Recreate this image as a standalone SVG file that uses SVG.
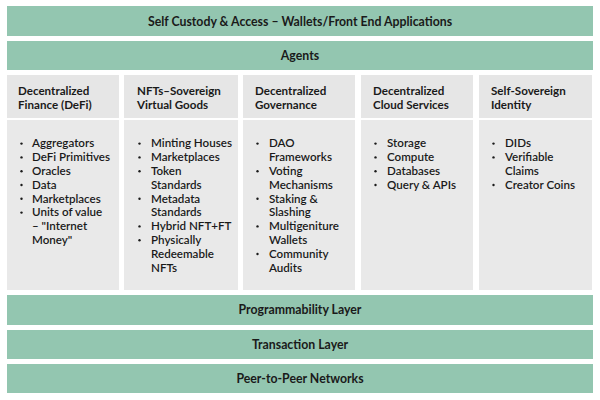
<svg xmlns="http://www.w3.org/2000/svg" width="600" height="400" viewBox="0 0 600 400">
<style>
.bar{fill:#93c6b0}
.hd{fill:#e6e6e6}
.bd{fill:#e9e9e9}
.bt{font-family:Lato,"Open Sans",sans-serif;font-weight:bold;font-size:12.3px;fill:#1a1a1a;text-anchor:middle}
.ht{font-family:Lato,"Open Sans",sans-serif;font-weight:bold;font-size:11.6px;fill:#1a1a1a}
.it{font-family:Lato,"Open Sans",sans-serif;font-weight:600;font-size:11.6px;fill:#1a1a1a}
.dot{fill:#1a1a1a}
</style>
<rect width="600" height="400" fill="#ffffff"/>
<g id="self-custody"><rect class="bar" x="7" y="6" width="586" height="30"/><text class="bt" x="300" y="25.5">Self Custody &amp; Access – Wallets/Front End Applications</text></g>
<g id="agents"><rect class="bar" x="7" y="41" width="586" height="29"/><text class="bt" x="300" y="59.5">Agents</text></g>
<g id="defi">
<rect class="hd" x="7" y="75" width="112" height="43"/>
<rect class="bd" x="7" y="120" width="112" height="170"/>
<text class="ht" x="18" y="94.5">Decentralized</text><text class="ht" x="18" y="108.5">Finance (DeFi)</text>
<g class="dot">
<circle cx="21.5" cy="143.6" r="1.2"/><circle cx="21.5" cy="157.4" r="1.2"/><circle cx="21.5" cy="171.2" r="1.2"/><circle cx="21.5" cy="185" r="1.2"/><circle cx="21.5" cy="198.8" r="1.2"/><circle cx="21.5" cy="212.6" r="1.2"/>
</g>
<g class="it">
<text x="32" y="147.3">Aggregators</text>
<text x="32" y="161.1">DeFi Primitives</text>
<text x="32" y="174.9">Oracles</text>
<text x="32" y="188.7">Data</text>
<text x="32" y="202.5">Marketplaces</text>
<text x="32" y="216.3">Units of value</text>
<text x="32" y="230.1">– "Internet</text>
<text x="32" y="243.9">Money"</text>
</g>
</g>
<g id="nfts">
<rect class="hd" x="124" y="75" width="114" height="43"/>
<rect class="bd" x="124" y="120" width="114" height="170"/>
<text class="ht" x="137" y="94.5">NFTs–Sovereign</text><text class="ht" x="137" y="108.5">Virtual Goods</text>
<g class="dot">
<circle cx="139.5" cy="143.6" r="1.2"/><circle cx="139.5" cy="157.4" r="1.2"/><circle cx="139.5" cy="171.2" r="1.2"/><circle cx="139.5" cy="198.8" r="1.2"/><circle cx="139.5" cy="226.4" r="1.2"/><circle cx="139.5" cy="240.2" r="1.2"/>
</g>
<g class="it">
<text x="151" y="147.3">Minting Houses</text>
<text x="151" y="161.1">Marketplaces</text>
<text x="151" y="174.9">Token</text>
<text x="151" y="188.7">Standards</text>
<text x="151" y="202.5">Metadata</text>
<text x="151" y="216.3">Standards</text>
<text x="151" y="230.1">Hybrid NFT+FT</text>
<text x="151" y="243.9">Physically</text>
<text x="151" y="257.7">Redeemable</text>
<text x="151" y="271.5">NFTs</text>
</g>
</g>
<g id="governance">
<rect class="hd" x="243" y="75" width="112" height="43"/>
<rect class="bd" x="243" y="120" width="112" height="170"/>
<text class="ht" x="255" y="94.5">Decentralized</text><text class="ht" x="255" y="108.5">Governance</text>
<g class="dot">
<circle cx="257.5" cy="143.6" r="1.2"/><circle cx="257.5" cy="171.2" r="1.2"/><circle cx="257.5" cy="198.8" r="1.2"/><circle cx="257.5" cy="226.4" r="1.2"/><circle cx="257.5" cy="254" r="1.2"/>
</g>
<g class="it">
<text x="269" y="147.3">DAO</text>
<text x="269" y="161.1">Frameworks</text>
<text x="269" y="174.9">Voting</text>
<text x="269" y="188.7">Mechanisms</text>
<text x="269" y="202.5">Staking &amp;</text>
<text x="269" y="216.3">Slashing</text>
<text x="269" y="230.1">Multigeniture</text>
<text x="269" y="243.9">Wallets</text>
<text x="269" y="257.7">Community</text>
<text x="269" y="271.5">Audits</text>
</g>
</g>
<g id="cloud">
<rect class="hd" x="361" y="75" width="112" height="43"/>
<rect class="bd" x="361" y="120" width="112" height="170"/>
<text class="ht" x="373" y="94.5">Decentralized</text><text class="ht" x="373" y="108.5">Cloud Services</text>
<g class="dot">
<circle cx="375.5" cy="143.6" r="1.2"/><circle cx="375.5" cy="157.4" r="1.2"/><circle cx="375.5" cy="171.2" r="1.2"/><circle cx="375.5" cy="185" r="1.2"/>
</g>
<g class="it">
<text x="387" y="147.3">Storage</text>
<text x="387" y="161.1">Compute</text>
<text x="387" y="174.9">Databases</text>
<text x="387" y="188.7">Query &amp; APIs</text>
</g>
</g>
<g id="identity">
<rect class="hd" x="479" y="75" width="113" height="43"/>
<rect class="bd" x="479" y="120" width="113" height="170"/>
<text class="ht" x="491" y="94.5">Self-Sovereign</text><text class="ht" x="491" y="108.5">Identity</text>
<g class="dot">
<circle cx="493.5" cy="143.6" r="1.2"/><circle cx="493.5" cy="157.4" r="1.2"/><circle cx="493.5" cy="185" r="1.2"/>
</g>
<g class="it">
<text x="505" y="147.3">DIDs</text>
<text x="505" y="161.1">Verifiable</text>
<text x="505" y="174.9">Claims</text>
<text x="505" y="188.7">Creator Coins</text>
</g>
</g>
<g id="programmability"><rect class="bar" x="7" y="295" width="586" height="30"/><text class="bt" x="300" y="314">Programmability Layer</text></g>
<g id="transaction"><rect class="bar" x="7" y="330" width="586" height="29"/><text class="bt" x="300" y="348.5">Transaction Layer</text></g>
<g id="p2p"><rect class="bar" x="7" y="364" width="586" height="29"/><text class="bt" x="300" y="382.5">Peer-to-Peer Networks</text></g>
<g id="connectors"/>
</svg>
